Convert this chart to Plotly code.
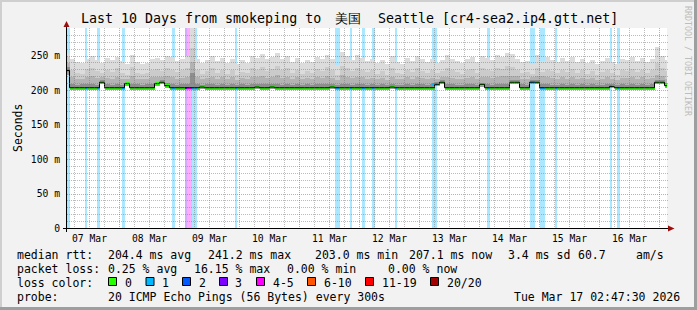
import numpy as np
import pandas as pd
import plotly.graph_objects as go

# ---------------- data ----------------
END_TIME = "2026-03-17 02:47:30"
BIN_START = "2026-03-07 02:00"
BIN_HOURS = 2

median_ms = [
    229, 204, 204, 204, 204, 204, 204, 212, 204, 204,
    204, 204, 210, 204, 204, 204, 204, 204, 210, 212,
    207, 204, 204, 204, 204, 204, 204, 205, 204, 204,
    204, 204, 204, 204, 204, 204, 204, 204, 205, 204,
    204, 205, 204, 204, 204, 204, 204, 204, 204, 204,
    204, 204, 204, 205, 204, 204, 204, 204, 204, 204,
    204, 204, 204, 204, 204, 205, 204, 204, 204, 204,
    204, 204, 204, 204, 209, 212, 204, 204, 204, 204,
    204, 204, 204, 209, 204, 204, 204, 204, 204, 212,
    212, 204, 204, 212, 212, 204, 204, 204, 204, 204,
    204, 204, 204, 204, 204, 204, 204, 204, 204, 206,
    204, 204, 204, 204, 204, 204, 204, 204, 212, 212,
    207]

smoke_min_ms = [
    222, 202, 202, 202, 202, 202, 202, 209, 202, 202,
    202, 202, 207, 202, 202, 202, 202, 202, 207, 209,
    204, 202, 202, 202, 202, 201, 202, 202, 202, 202,
    202, 202, 202, 202, 202, 202, 202, 202, 202, 202,
    202, 202, 202, 202, 202, 202, 202, 202, 202, 202,
    202, 202, 202, 202, 202, 202, 202, 202, 202, 202,
    202, 202, 202, 202, 202, 202, 202, 202, 202, 202,
    202, 202, 202, 202, 206, 209, 202, 202, 202, 202,
    202, 202, 202, 205, 202, 202, 202, 202, 202, 209,
    209, 202, 202, 209, 209, 202, 202, 202, 202, 202,
    202, 202, 202, 202, 202, 202, 202, 202, 202, 204,
    202, 202, 202, 202, 202, 202, 202, 202, 209, 209,
    205]

smoke_p1_ms = [
    234, 209, 208, 209, 210, 209, 208, 215, 209, 208,
    209, 208, 213, 210, 209, 208, 209, 209, 213, 215,
    211, 209, 208, 209, 210, 226, 209, 208, 209, 210,
    208, 209, 208, 210, 208, 209, 208, 209, 210, 210,
    209, 209, 210, 208, 209, 208, 210, 208, 209, 208,
    210, 209, 210, 209, 208, 210, 209, 208, 210, 209,
    208, 209, 208, 209, 208, 210, 208, 208, 209, 208,
    209, 209, 208, 209, 212, 215, 210, 209, 208, 208,
    209, 209, 208, 211, 209, 208, 209, 210, 209, 215,
    215, 209, 208, 215, 215, 209, 209, 208, 208, 209,
    208, 209, 208, 209, 208, 209, 208, 208, 209, 209,
    208, 209, 208, 209, 208, 209, 208, 209, 215, 215,
    211]

smoke_p2_ms = [
    240, 219, 217, 216, 220, 221, 218, 219, 218, 217,
    220, 217, 216, 221, 217, 216, 216, 219, 220, 220,
    221, 219, 217, 218, 220, 242, 219, 216, 218, 220,
    217, 219, 216, 219, 215, 218, 216, 220, 219, 221,
    218, 219, 222, 218, 220, 217, 219, 216, 218, 217,
    219, 218, 221, 218, 215, 222, 220, 218, 220, 219,
    217, 218, 216, 218, 215, 220, 217, 216, 219, 217,
    220, 218, 216, 218, 217, 219, 220, 218, 217, 216,
    218, 219, 217, 220, 219, 218, 220, 221, 221, 221,
    221, 217, 217, 220, 221, 221, 219, 218, 216, 219,
    217, 219, 216, 218, 216, 218, 215, 217, 219, 216,
    215, 218, 218, 219, 217, 219, 216, 218, 222, 221,
    216]

smoke_p3_ms = [
    248, 229, 226, 224, 231, 233, 228, 225, 230, 227,
    232, 226, 223, 234, 226, 224, 225, 229, 231, 228,
    233, 230, 227, 229, 232, 262, 230, 224, 228, 232,
    226, 229, 224, 230, 223, 227, 225, 232, 229, 234,
    228, 231, 235, 229, 232, 226, 230, 224, 228, 226,
    231, 228, 234, 229, 222, 236, 232, 228, 233, 230,
    227, 229, 224, 228, 223, 232, 226, 224, 230, 227,
    232, 228, 225, 229, 225, 228, 233, 229, 227, 224,
    229, 231, 226, 232, 230, 228, 233, 231, 235, 234,
    229, 225, 227, 224, 233, 227, 230, 228, 225, 230,
    227, 231, 226, 229, 224, 228, 223, 227, 230, 225,
    223, 229, 228, 231, 227, 230, 225, 229, 240, 232,
    228]

smoke_max_ms = [
    255, 246, 242, 240, 246, 250, 244, 240, 247, 244,
    249, 243, 238, 252, 241, 238, 240, 245, 247, 244,
    250, 248, 243, 246, 250, 292, 246, 240, 244, 250,
    243, 247, 240, 246, 238, 244, 240, 250, 247, 253,
    245, 248, 254, 246, 250, 242, 247, 240, 244, 242,
    249, 245, 252, 246, 237, 256, 250, 244, 252, 247,
    243, 245, 240, 244, 238, 250, 241, 239, 247, 243,
    250, 245, 241, 246, 240, 244, 252, 245, 243, 240,
    246, 249, 242, 250, 247, 244, 251, 248, 254, 253,
    245, 241, 243, 238, 251, 243, 248, 244, 241, 247,
    243, 249, 242, 246, 240, 244, 239, 243, 247, 241,
    238, 246, 244, 249, 243, 247, 241, 245, 263, 250,
    244]

loss_start = ["2026-03-07 02:00", "2026-03-07 10:00", "2026-03-07 15:00",
              "2026-03-08 01:00", "2026-03-08 21:00", "2026-03-09 02:00",
              "2026-03-09 03:00", "2026-03-09 05:00", "2026-03-09 22:00",
              "2026-03-11 14:00", "2026-03-11 20:00", "2026-03-12 01:00",
              "2026-03-12 05:00", "2026-03-12 14:00", "2026-03-13 05:00",
              "2026-03-14 03:00", "2026-03-14 20:00", "2026-03-15 00:00",
              "2026-03-15 06:00", "2026-03-16 04:00", "2026-03-16 07:00"]
loss_hours = [2, 1, 1, 1, 1, 1, 2, 2, 1, 2, 1, 1, 1, 1, 2, 1, 2, 2, 1, 1, 1]
loss_class = ["1", "1", "1", "1", "1", "3", "4-5", "1", "1", "1", "1", "1",
              "1", "1", "1", "1", "1", "1", "1", "1", "1"]

legend_classes = ["0", "1", "2", "3", "4-5", "6-10", "11-19", "20/20"]
day_labels = ["07 Mar", "08 Mar", "09 Mar", "10 Mar", "11 Mar",
              "12 Mar", "13 Mar", "14 Mar", "15 Mar", "16 Mar"]
y_tick_values = [0, 50, 100, 150, 200, 250]
y_tick_labels = ["0", "50 m", "100 m", "150 m", "200 m", "250 m"]

title_left = "Last 10 Days from smokeping to"
title_cjk = "美国"
title_right = "Seattle [cr4-sea2.ip4.gtt.net]"
rtt_items = ["median rtt:", "204.4 ms avg", "241.2 ms max", "203.0 ms min",
             "207.1 ms now", "3.4 ms sd", "60.7", "am/s"]
loss_items = ["packet loss:", "0.25 % avg", "16.15 % max", "0.00 % min", "0.00 % now"]
probe_items = ["probe:", "20 ICMP Echo Pings (56 Bytes) every 300s", "Tue Mar 17 02:47:30 2026"]
watermark = "RRDTOOL / TOBI OETIKER"

# ---------------- styles ----------------
LOSS_COLORS = {"0": "#26ff00", "1": "#00b8ff", "2": "#0059ff", "3": "#7e00ff",
               "4-5": "#ff00ff", "6-10": "#ff5500", "11-19": "#ff0000", "20/20": "#a10000"}
SMOKE_COLORS = ["#dcdcdc", "#cbcbcb", "#b3b3b3", "#8e8e8e"]
FONT = "DejaVu Sans Mono"
W, H = 697, 310
PL, PT, PW, PH = 66, 28, 601, 201
PX_PER_MS = 0.69
Y_MIN = -0.5 / PX_PER_MS
Y_MAX = Y_MIN + PH / PX_PER_MS
HOUR_PX = 2.5


def hexa(c, a):
    c = c.lstrip("#")
    return "rgba(%d,%d,%d,%.2f)" % (int(c[0:2], 16), int(c[2:4], 16), int(c[4:6], 16), a)


def px(x):
    return (x - PL) / PW


def py(y):
    return (PT + PH - y) / PH


# ---------------- derived ----------------
end_t = pd.Timestamp(END_TIME)
half_px = pd.Timedelta(hours=0.5 / HOUR_PX)
x0 = end_t - pd.Timedelta(days=10) - half_px
x1 = x0 + pd.Timedelta(hours=PW / HOUR_PX)

med = np.array(median_ms, float)
n = len(med)
bin_starts = pd.date_range(BIN_START, periods=n, freq="%dh" % BIN_HOURS)
bin_centers = bin_starts + pd.Timedelta(hours=BIN_HOURS / 2)
bin_w = BIN_HOURS * 3600 * 1000

ls = pd.to_datetime(loss_start)
lh = np.array(loss_hours, float)
lc_centers = ls + pd.to_timedelta(lh / 2, unit="h")
lc_widths = lh * 3600 * 1000
bin_idx = ((lc_centers - pd.Timestamp(BIN_START)) / pd.Timedelta(hours=BIN_HOURS)).astype(int)
loss_med = med[np.clip(bin_idx, 0, n - 1)]

fig = go.Figure()

# loss background stripes
fig.add_trace(go.Bar(x=lc_centers, y=[Y_MAX - Y_MIN] * len(ls), base=Y_MIN, width=lc_widths,
                     marker=dict(color=[hexa(LOSS_COLORS[c], 0.33) for c in loss_class], line=dict(width=0))))

# smoke
for top, col in zip([smoke_max_ms, smoke_p3_ms, smoke_p2_ms, smoke_p1_ms], SMOKE_COLORS):
    t = np.array(top, float)
    fig.add_trace(go.Bar(x=bin_centers, y=t - med, base=med, width=bin_w,
                         marker=dict(color=col, line=dict(width=0))))
smin = np.array(smoke_min_ms, float)
fig.add_trace(go.Bar(x=bin_centers, y=med - smin, base=smin, width=bin_w,
                     marker=dict(color="#9c9c9c", line=dict(width=0))))

# median black step line
fig.add_trace(go.Scatter(x=list(bin_starts) + [bin_starts[-1] + pd.Timedelta(hours=BIN_HOURS)],
                         y=list(med) + [med[-1]], mode="lines",
                         line=dict(shape="hv", color="#000000", width=1)))
# median coloured bars
fig.add_trace(go.Bar(x=bin_centers, y=[3.6] * n, base=med - 1.8, width=bin_w,
                     marker=dict(color=LOSS_COLORS["0"], line=dict(width=0))))
fig.add_trace(go.Bar(x=lc_centers, y=[3.6] * len(ls), base=loss_med - 1.8, width=lc_widths,
                     marker=dict(color=[LOSS_COLORS[c] for c in loss_class], line=dict(width=0))))

shapes = []
# grid (drawn above traces like rrdtool)
for v in range(10, 290, 10):
    yp = np.floor(PT + PH - 0.5 - v * PX_PER_MS) + 0.5
    major = v % 50 == 0
    shapes.append(dict(type="line", xref="paper", yref="paper", x0=px(PL + 1), x1=px(PL + PW + 1),
                       y0=py(yp), y1=py(yp), layer="above",
                       line=dict(color="rgba(200,40,40,0.45)" if major else "rgba(120,120,120,0.5)",
                                 width=1, dash="1px,1px")))
gt = pd.date_range("2026-03-07 06:00", x1, freq="6h")
for t in gt:
    xp = PL + (t - x0) / pd.Timedelta(hours=1) * HOUR_PX
    xp = np.floor(xp) + 0.5
    major = t.hour == 0
    shapes.append(dict(type="line", xref="paper", yref="paper", x0=px(xp), x1=px(xp),
                       y0=py(PT), y1=py(PT + PH - 1), layer="above",
                       line=dict(color="rgba(200,40,40,0.45)" if major else "rgba(120,120,120,0.5)",
                                 width=1, dash="1px,1px")))
# axes
AX = "#000000"
ARROW = "#9a0e0e"
yb = PT + PH - 0.5
shapes.append(dict(type="line", xref="paper", yref="paper", x0=px(63), x1=px(669), y0=py(yb), y1=py(yb),
                   layer="above", line=dict(color=AX, width=1)))
shapes.append(dict(type="line", xref="paper", yref="paper", x0=px(66.5), x1=px(66.5), y0=py(232), y1=py(24),
                   layer="above", line=dict(color=AX, width=1)))
shapes.append(dict(type="path", xref="paper", yref="paper", layer="above",
                   path="M %f %f L %f %f L %f %f Z" % (px(63.5), py(27), px(69.5), py(27), px(66.5), py(21)),
                   fillcolor=ARROW, line=dict(width=0)))
shapes.append(dict(type="path", xref="paper", yref="paper", layer="above",
                   path="M %f %f L %f %f L %f %f Z" % (px(668), py(yb - 3), px(668), py(yb + 3), px(674.5), py(yb)),
                   fillcolor=ARROW, line=dict(width=0)))
# frame
shapes.append(dict(type="rect", xref="paper", yref="paper", x0=px(0), x1=px(W), y0=py(0), y1=py(2),
                   fillcolor="#cfcfcf", line=dict(width=0), layer="below"))
shapes.append(dict(type="rect", xref="paper", yref="paper", x0=px(0), x1=px(2), y0=py(0), y1=py(H),
                   fillcolor="#cfcfcf", line=dict(width=0), layer="below"))
shapes.append(dict(type="rect", xref="paper", yref="paper", x0=px(0), x1=px(W), y0=py(H - 3), y1=py(H),
                   fillcolor="#9e9e9e", line=dict(width=0), layer="below"))
shapes.append(dict(type="rect", xref="paper", yref="paper", x0=px(W - 3), x1=px(W), y0=py(0), y1=py(H),
                   fillcolor="#9e9e9e", line=dict(width=0), layer="below"))

annotations = []


def ann(text, x, y, size=11.5, anchor="left", color="#000000", angle=0):
    annotations.append(dict(text=text, x=px(x), y=py(y), xref="paper", yref="paper", showarrow=False,
                            xanchor=anchor, yanchor="middle", borderpad=0, textangle=angle,
                            font=dict(family=FONT, size=size, color=color)))


ann(title_left, 80, 18.5, size=13.3)
ann(title_cjk, 348, 18.5, size=13.3, anchor="center")
ann(title_right, 377, 18.5, size=13.3)
ann("Seconds", 10, 128, angle=-90)
ann(watermark, 688, 61, size=8.3, anchor="center", color="#bdbdbd", angle=90)

rtt_x = [16, 107.3, 207.3, 314, 408.3, 506.7, 576.7, 635]
for t, x in zip(rtt_items, rtt_x):
    ann(t, x, 254.5)
loss_x = [16, 107.3, 193.3, 286, 386.7]
for t, x in zip(loss_items, loss_x):
    ann(t, x, 268.5)
ann("loss color:", 16, 282.5)
box_x = [108.5, 146, 182.5, 219.5, 256.5, 307.5, 365.5, 430.5]
for cls, bx in zip(legend_classes, box_x):
    shapes.append(dict(type="rect", xref="paper", yref="paper", x0=px(bx), x1=px(bx + 8),
                       y0=py(277.5), y1=py(285.5), fillcolor=LOSS_COLORS[cls],
                       line=dict(color="#000000", width=1), layer="above"))
    ann(cls, bx + 15, 282.5)
probe_x = [16, 107.3, 513.3]
for t, x in zip(probe_items, probe_x):
    ann(t, x, 296.5)

days = pd.date_range("2026-03-07", periods=len(day_labels), freq="D") + pd.Timedelta(hours=12)

fig.update_layout(
    width=W, height=H, margin=dict(l=PL, r=W - PL - PW, t=PT, b=H - PT - PH, pad=0),
    paper_bgcolor="#f2f2f2", plot_bgcolor="#ffffff",
    barmode="overlay", bargap=0, showlegend=False,
    shapes=shapes, annotations=annotations,
    xaxis=dict(type="date", range=[x0, x1], showgrid=False, zeroline=False, showline=False,
               tickvals=list(days), ticktext=day_labels, ticks="", ticklabelstandoff=2,
               tickfont=dict(family=FONT, size=9.7, color="#000000"), fixedrange=True),
    yaxis=dict(range=[Y_MIN, Y_MAX], showgrid=False, zeroline=False, showline=False,
               tickvals=y_tick_values, ticktext=y_tick_labels, ticks="", ticklabelstandoff=5,
               tickfont=dict(family=FONT, size=9.7, color="#000000"), fixedrange=True),
    hovermode=False,
)

fig.write_html("out.html")
